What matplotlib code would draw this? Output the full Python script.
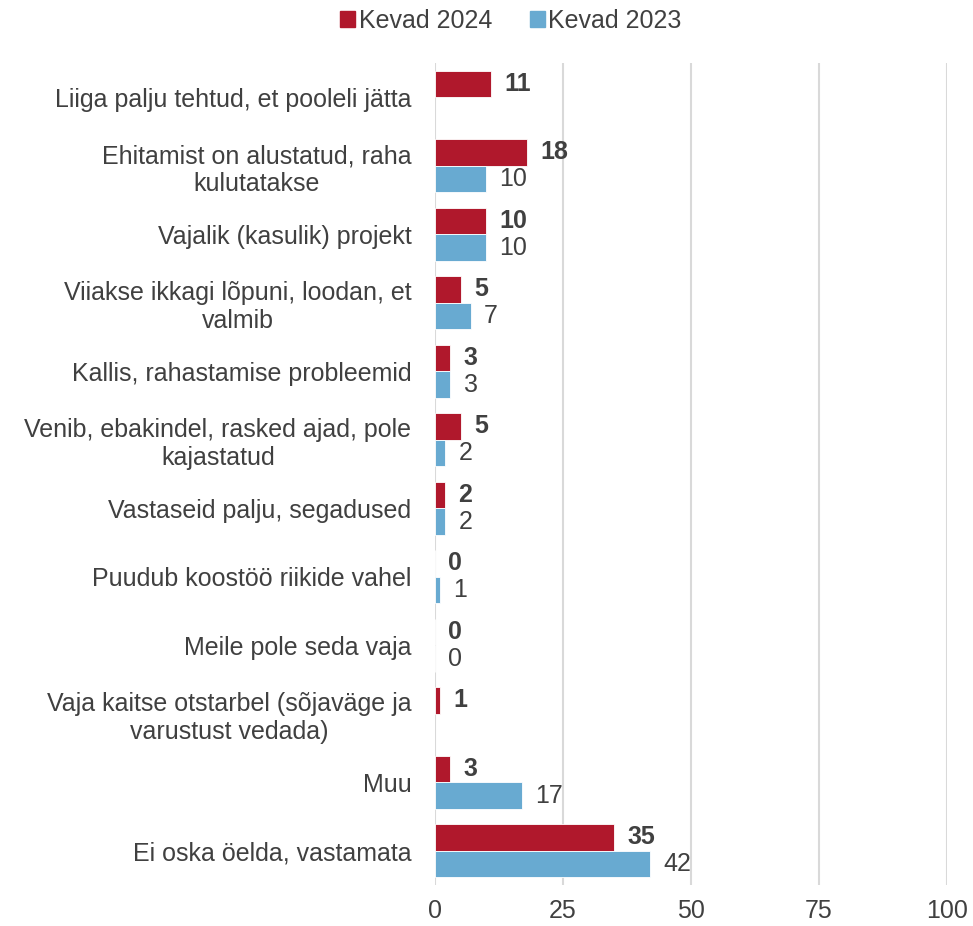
import numpy as np
import matplotlib.pyplot as plt
from matplotlib.patches import Patch

plt.rcParams['font.family'] = ['Liberation Sans', 'DejaVu Sans']

categories = [
    'Liiga palju tehtud, et pooleli jätta',
    'Ehitamist on alustatud, raha\nkulutatakse',
    'Vajalik (kasulik) projekt',
    'Viiakse ikkagi lõpuni, loodan, et\nvalmib',
    'Kallis, rahastamise probleemid',
    'Venib, ebakindel, rasked ajad, pole\nkajastatud',
    'Vastaseid palju, segadused',
    'Puudub koostöö riikide vahel',
    'Meile pole seda vaja',
    'Vaja kaitse otstarbel (sõjaväge ja\nvarustust vedada)',
    'Muu',
    'Ei oska öelda, vastamata',
]
kevad_2024 = [11, 18, 10, 5, 3, 5, 2, 0, 0, 1, 3, 35]
kevad_2023 = [None, 10, 10, 7, 3, 2, 2, 1, 0, None, 17, 42]
x_ticks = [0, 25, 50, 75, 100]

RED = '#B0182C'
BLUE = '#68AAD1'
TEXT = '#404040'
FS = 18

fig = plt.figure(figsize=(9.73, 9.26), dpi=100)
ax = fig.add_axes([435 / 973, 1 - 885 / 926, 512 / 973, (885 - 63) / 926])

y = np.arange(len(categories))
h = 0.39
off = h / 2

for i, (v24, v23) in enumerate(zip(kevad_2024, kevad_2023)):
    ax.barh(i - off, v24, height=h, color=RED, edgecolor='white', linewidth=0.6, zorder=3)
    ax.text(v24 + 2.6, i - off, f'{v24}', ha='left', va='center',
            fontsize=FS, fontweight='bold', color=TEXT)
    if v23 is not None:
        ax.barh(i + off, v23, height=h, color=BLUE, edgecolor='white', linewidth=0.6, zorder=3)
        ax.text(v23 + 2.6, i + off, f'{v23}', ha='left', va='center',
                fontsize=FS, color=TEXT)

ax.set_xlim(0, 100)
ax.set_ylim(len(categories) - 0.5, -0.5)
ax.set_xticks(x_ticks)
ax.set_yticks(y)
ax.set_yticklabels(categories, fontsize=FS, color=TEXT, multialignment='center')
ax.tick_params(axis='x', length=0, pad=10, labelsize=FS, labelcolor=TEXT)
ax.tick_params(axis='y', length=0, pad=17)
ax.grid(axis='x', color='#D9D9D9', linewidth=1.5, zorder=0)
for s in ax.spines.values():
    s.set_visible(False)

handles = [Patch(color=RED, label='Kevad 2024'), Patch(color=BLUE, label='Kevad 2023')]
fig.legend(handles=handles, loc='center', bbox_to_anchor=(511 / 973, 1 - 21 / 926),
           ncol=2, frameon=False, fontsize=FS, handlelength=0.6, handleheight=0.6,
           handletextpad=0.15, columnspacing=1.5, labelcolor=TEXT)

fig.savefig('out.png', dpi=100)
